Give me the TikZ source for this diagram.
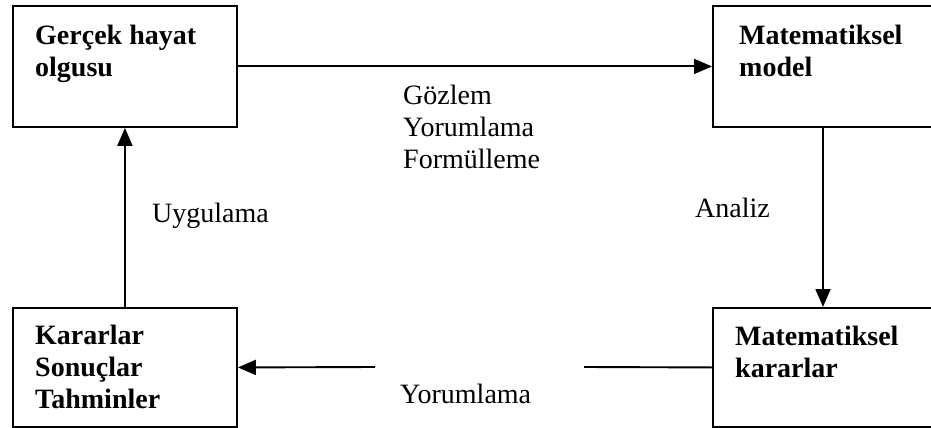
\documentclass[tikz,border=0pt]{standalone}
\usepackage{fontspec}
\setmainfont{Liberation Serif}
\usetikzlibrary{arrows.meta}
\begin{document}
\begin{tikzpicture}[x=1pt,y=-1pt,
  boxnode/.style={draw,line width=1.9pt,minimum width=224pt,minimum height=121pt,inner sep=0pt,anchor=north west},
  boxtext/.style={font=\fontsize{28}{32}\selectfont\bfseries,align=left,inner sep=0pt,anchor=base west},
  lbl/.style={font=\fontsize{28}{32}\selectfont,align=left,inner sep=0pt,anchor=base west},
  conn/.style={line width=1.9pt},
  arr/.style={conn,-{Triangle[length=18pt,width=15pt]}}]
\useasboundingbox (0,0) rectangle (931,428);
\begin{scope}
\clip (0,0) rectangle (931,428);
\node[boxnode] (real) at (12,5) {};
\node[boxnode,minimum width=222pt] (model) at (712,5) {};
\node[boxnode,minimum height=119pt] (dec) at (12,307) {};
\node[boxnode,minimum width=222pt,minimum height=119pt] (mdec) at (712,307) {};
\end{scope}
\node[boxtext] (realT) at (35,45) {Gerçek hayat};
\node[boxtext] (realT2) at (35,76) {olgusu};
\node[boxtext] (modelT) at (739,45) {Matematiksel};
\node[boxtext] (modelT2) at (739,76) {model};
\node[boxtext] (decT) at (35,344) {Kararlar};
\node[boxtext] (decT2) at (35,376) {Sonuçlar};
\node[boxtext] (decT3) at (35,408) {Tahminler};
\node[boxtext] (mdecT) at (735,345) {Matematiksel};
\node[boxtext] (mdecT2) at (735,377) {kararlar};
\node[lbl] (l1) at (403,104) {Gözlem};
\node[lbl] (l2) at (403,136) {Yorumlama};
\node[lbl] (l3) at (403,168) {Formülleme};
\node[lbl] (uyg) at (152,222) {Uygulama};
\node[lbl] (ana) at (695,217) {Analiz};
\node[lbl] (yor) at (400,403) {Yorumlama};
\coordinate (gapR) at (584,367);
\coordinate (gapL) at (375,367);
\draw[arr] (real.east) -- (model.west);
\draw[arr] (model.south -| 823,0) -- (mdec.north -| 823,0);
\draw[conn] (mdec.west) -- (gapR);
\draw[arr] (gapL) -- (dec.east);
\draw[arr] (dec.north) -- (real.south);
\end{tikzpicture}
\end{document}
